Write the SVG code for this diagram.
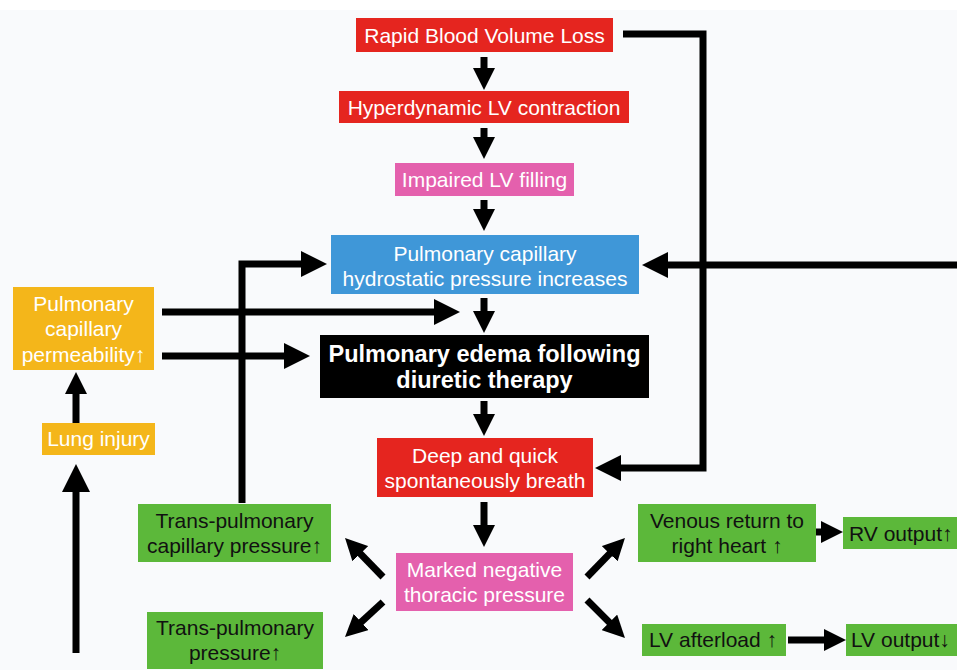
<svg xmlns="http://www.w3.org/2000/svg" width="957" height="670" viewBox="0 0 957 670">
<style>
.t{font-family:"Liberation Sans",Arial,sans-serif;font-size:21px;text-anchor:middle}
.w{fill:#ffffff}
.k{fill:#111111}
.b{font-weight:bold;font-size:23.5px}
.red{fill:#e5251f}
.pink{fill:#e460ad}
.blue{fill:#3f97d8}
.yel{fill:#f4b61a}
.grn{fill:#5cb83a}
.blk{fill:#000000}
.c{fill:none;stroke:#000;stroke-width:7;stroke-linejoin:miter}
</style>
<defs>
<marker id="as" viewBox="0 0 22 22" markerWidth="22" markerHeight="22" markerUnits="userSpaceOnUse" refX="13" refY="11" orient="auto"><path d="M0,0 L22,11 L0,22 z" fill="#000"/></marker>
<marker id="ah" viewBox="0 0 26 26" markerWidth="26" markerHeight="26" markerUnits="userSpaceOnUse" refX="16" refY="13" orient="auto"><path d="M0,0 L26,13 L0,26 z" fill="#000"/></marker>
<marker id="ab" viewBox="0 0 28 28" markerWidth="28" markerHeight="28" markerUnits="userSpaceOnUse" refX="17" refY="14" orient="auto"><path d="M0,0 L28,14 L0,28 z" fill="#000"/></marker>
</defs>
<rect x="0" y="0" width="957" height="670" fill="#ffffff"/>
<rect x="0" y="10" width="957" height="660" fill="#f9fafc"/>

<g id="connectors">
<path class="c" d="M484,57 V81" marker-end="url(#as)"/>
<path class="c" d="M484,128 V150" marker-end="url(#as)"/>
<path class="c" d="M484,200 V222" marker-end="url(#as)"/>
<path class="c" d="M484,298 V324" marker-end="url(#as)"/>
<path class="c" d="M484,401 V427" marker-end="url(#as)"/>
<path class="c" d="M484,502 V538" marker-end="url(#as)"/>
<path class="c" d="M623,34 H703 V468 H605" marker-end="url(#ah)"/>
<path class="c" d="M957,265 H652" marker-end="url(#ah)"/>
<path class="c" d="M162,312 H450" marker-end="url(#ah)"/>
<path class="c" d="M162,356 H300" marker-end="url(#ah)"/>
<path class="c" d="M76,423 V381" marker-end="url(#as)"/>
<path class="c" d="M76,653 V475" marker-end="url(#ab)"/>
<path class="c" d="M242,503 V264 H317" marker-end="url(#ah)"/>
<path class="c" d="M383,577 L351.3,544.4" marker-end="url(#as)"/>
<path class="c" d="M383,602 L351.6,630.9" marker-end="url(#as)"/>
<path class="c" d="M587,577 L618.7,544.4" marker-end="url(#as)"/>
<path class="c" d="M587,600 L618.6,631.6" marker-end="url(#as)"/>
<path class="c" d="M816,532 H834" marker-end="url(#as)"/>
<path class="c" d="M788,640 H837" marker-end="url(#as)"/>
</g>

<g id="n-rapid"><rect class="red" x="356" y="18" width="257" height="34"/><text class="t w" x="484.5" y="43">Rapid Blood Volume Loss</text></g>
<g id="n-hyper"><rect class="red" x="339" y="91" width="290" height="32"/><text class="t w" x="484" y="115">Hyperdynamic LV contraction</text></g>
<g id="n-impaired"><rect class="pink" x="395" y="163" width="179" height="33"/><text class="t w" x="484.5" y="187">Impaired LV filling</text></g>
<g id="n-hydro"><rect class="blue" x="331" y="235" width="308" height="59"/><text class="t w" x="485" y="261">Pulmonary capillary</text><text class="t w" x="485" y="286">hydrostatic pressure increases</text></g>
<g id="n-edema"><rect class="blk" x="320" y="335" width="329" height="63"/><text class="t w b" x="484.5" y="362">Pulmonary edema following</text><text class="t w b" x="484.5" y="388">diuretic therapy</text></g>
<g id="n-deep"><rect class="red" x="377" y="438" width="216" height="59"/><text class="t w" x="485" y="463">Deep and quick</text><text class="t w" x="485" y="488">spontaneously breath</text></g>
<g id="n-thoracic"><rect class="pink" x="396" y="553" width="177" height="58"/><text class="t w" x="484.5" y="577">Marked negative</text><text class="t w" x="484.5" y="602">thoracic pressure</text></g>
<g id="n-perm"><rect class="yel" x="13" y="287" width="141" height="83"/><text class="t w" x="83.5" y="311">Pulmonary</text><text class="t w" x="83.5" y="336">capillary</text><text class="t w" x="83.5" y="362">permeability↑</text></g>
<g id="n-lung"><rect class="yel" x="42" y="423" width="113" height="32"/><text class="t w" x="98.5" y="446">Lung injury</text></g>
<g id="n-tpcap"><rect class="grn" x="138" y="504" width="193" height="58"/><text class="t k" x="234.5" y="528">Trans-pulmonary</text><text class="t k" x="234.5" y="553">capillary pressure↑</text></g>
<g id="n-tp"><rect class="grn" x="147" y="612" width="176" height="57"/><text class="t k" x="235" y="635">Trans-pulmonary</text><text class="t k" x="235" y="660">pressure↑</text></g>
<g id="n-venous"><rect class="grn" x="638" y="504" width="178" height="58"/><text class="t k" x="727" y="528">Venous return to</text><text class="t k" x="727" y="553">right heart ↑</text></g>
<g id="n-rv"><rect class="grn" x="843" y="517" width="120" height="32"/><text class="t k" x="849" y="541" style="text-anchor:start">RV output↑</text></g>
<g id="n-lva"><rect class="grn" x="642" y="624" width="144" height="32"/><text class="t k" x="713" y="647">LV afterload ↑</text></g>
<g id="n-lvo"><rect class="grn" x="846" y="624" width="117" height="32"/><text class="t k" x="851" y="647" style="text-anchor:start">LV output↓</text></g>
</svg>
